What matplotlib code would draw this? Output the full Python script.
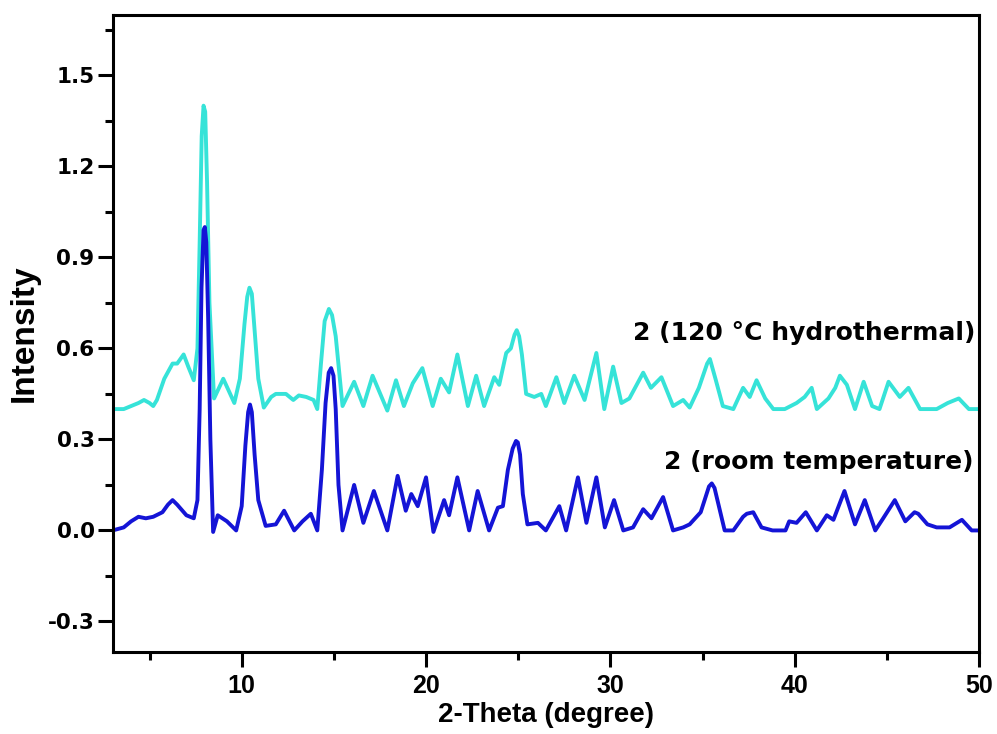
import matplotlib
matplotlib.use("Agg")
import matplotlib.pyplot as plt
from matplotlib.ticker import MultipleLocator, FixedLocator

# Powder XRD patterns of compound 2 (2-theta in degrees, normalised intensity)
rt_theta = [3.0, 3.6, 4.0, 4.4, 4.8, 5.2, 5.7, 6.0, 6.25, 6.5, 7.0, 7.4, 7.6, 7.72,
            7.82, 7.93, 8.0, 8.08, 8.18, 8.3, 8.45, 8.7, 9.2, 9.7, 10.0, 10.2, 10.35,
            10.45, 10.55, 10.7, 10.9, 11.3, 11.85, 12.3, 12.85, 13.3, 13.75, 14.1,
            14.35, 14.55, 14.72, 14.85, 14.98, 15.1, 15.25, 15.47, 16.1, 16.6, 17.17,
            17.9, 18.46, 18.9, 19.2, 19.55, 20.0, 20.4, 20.98, 21.25, 21.7, 22.34,
            22.8, 23.42, 23.9, 24.17, 24.44, 24.7, 24.88, 24.98, 25.1, 25.25, 25.5,
            26.07, 26.5, 27.23, 27.6, 28.24, 28.7, 29.24, 29.7, 30.2, 30.7, 31.23,
            31.78, 32.23, 32.86, 33.4, 33.95, 34.3, 34.9, 35.35, 35.5, 35.65, 36.2,
            36.67, 37.2, 37.4, 37.75, 38.2, 38.8, 39.5, 39.7, 40.1, 40.6, 41.2,
            41.74, 42.1, 42.7, 43.27, 43.8, 44.37, 44.8, 45.43, 46.0, 46.5, 46.7,
            47.2, 47.7, 48.4, 49.07, 49.6, 50.0]
rt_intensity = [0.0, 0.01, 0.03, 0.045, 0.04, 0.045, 0.06, 0.085, 0.10, 0.085, 0.05,
                0.04, 0.10, 0.4, 0.8, 0.99, 1.0, 0.95, 0.7, 0.3, -0.005, 0.05, 0.03,
                0.0, 0.08, 0.28, 0.39, 0.415, 0.39, 0.25, 0.1, 0.015, 0.02, 0.065,
                0.0, 0.03, 0.055, 0.0, 0.2, 0.42, 0.52, 0.535, 0.51, 0.4, 0.15, 0.0,
                0.15, 0.025, 0.13, 0.0, 0.18, 0.065, 0.12, 0.08, 0.175, -0.005, 0.1,
                0.05, 0.175, 0.0, 0.13, 0.0, 0.075, 0.08, 0.2, 0.27, 0.295, 0.29,
                0.25, 0.12, 0.02, 0.025, 0.0, 0.08, 0.0, 0.175, 0.025, 0.175, 0.01,
                0.1, 0.0, 0.01, 0.07, 0.04, 0.11, 0.0, 0.01, 0.02, 0.06, 0.145,
                0.155, 0.14, 0.0, 0.0, 0.045, 0.055, 0.06, 0.01, 0.0, 0.0, 0.03,
                0.025, 0.06, 0.0, 0.05, 0.035, 0.13, 0.02, 0.1, 0.0, 0.04, 0.1, 0.03,
                0.06, 0.055, 0.02, 0.01, 0.01, 0.035, 0.0, 0.0]

ht_theta = [3.0, 3.6, 4.0, 4.4, 4.7, 5.0, 5.2, 5.4, 5.8, 6.25, 6.5, 6.85, 7.1, 7.4,
            7.6, 7.72, 7.83, 7.93, 8.02, 8.12, 8.25, 8.5, 9.0, 9.6, 9.9, 10.15,
            10.3, 10.42, 10.55, 10.7, 10.9, 11.2, 11.6, 11.85, 12.4, 12.8, 13.1,
            13.5, 13.9, 14.1, 14.3, 14.5, 14.73, 14.9, 15.1, 15.47, 16.1, 16.6,
            17.1, 17.9, 18.37, 18.8, 19.28, 19.8, 20.36, 20.8, 21.25, 21.7, 22.27,
            22.72, 23.15, 23.7, 23.97, 24.35, 24.6, 24.8, 24.92, 25.05, 25.2, 25.43,
            25.87, 26.25, 26.5, 27.07, 27.5, 28.04, 28.6, 29.24, 29.67, 30.15, 30.6,
            31.03, 31.78, 32.2, 32.77, 33.4, 33.95, 34.3, 34.8, 35.25, 35.4, 35.7,
            36.1, 36.67, 37.2, 37.56, 37.93, 38.4, 38.84, 39.46, 40.1, 40.54, 40.92,
            41.2, 41.83, 42.2, 42.45, 42.83, 43.27, 43.74, 44.2, 44.6, 45.09, 45.7,
            46.17, 46.8, 47.4, 47.7, 48.3, 48.9, 49.45, 50.0]
ht_intensity = [0.40, 0.40, 0.41, 0.42, 0.43, 0.42, 0.41, 0.43, 0.50, 0.55, 0.55,
                0.58, 0.54, 0.495, 0.6, 0.95, 1.3, 1.40, 1.38, 1.15, 0.75, 0.435,
                0.50, 0.42, 0.5, 0.68, 0.77, 0.80, 0.78, 0.66, 0.5, 0.405, 0.44,
                0.45, 0.45, 0.43, 0.445, 0.44, 0.43, 0.40, 0.55, 0.69, 0.73, 0.71,
                0.64, 0.41, 0.49, 0.41, 0.51, 0.395, 0.495, 0.41, 0.485, 0.535,
                0.41, 0.5, 0.455, 0.58, 0.41, 0.51, 0.41, 0.505, 0.48, 0.585, 0.6,
                0.645, 0.66, 0.64, 0.58, 0.45, 0.44, 0.45, 0.41, 0.505, 0.42, 0.51,
                0.43, 0.585, 0.40, 0.54, 0.42, 0.435, 0.52, 0.47, 0.505, 0.41, 0.43,
                0.405, 0.47, 0.55, 0.565, 0.5, 0.41, 0.40, 0.47, 0.44, 0.495, 0.435,
                0.40, 0.40, 0.42, 0.44, 0.47, 0.40, 0.435, 0.47, 0.51, 0.48, 0.40,
                0.49, 0.41, 0.40, 0.49, 0.44, 0.47, 0.40, 0.40, 0.40, 0.42, 0.435,
                0.40, 0.40]

series_labels = ["2 (120 °C hydrothermal)", "2 (room temperature)"]
x_ticks = [10, 20, 30, 40, 50]
y_ticks = [-0.3, 0.0, 0.3, 0.6, 0.9, 1.2, 1.5]

fig = plt.figure(figsize=(9.97, 7.34), dpi=100)
ax = fig.add_axes([0.113, 0.112, 0.869, 0.868])

ax.plot(ht_theta, ht_intensity, color="#36E3D8", lw=2.8,
        solid_joinstyle="round", solid_capstyle="round")
ax.plot(rt_theta, rt_intensity, color="#1414D6", lw=2.8,
        solid_joinstyle="round", solid_capstyle="round")

ax.set_xlim(3, 50)
ax.set_ylim(-0.4, 1.7)

ax.xaxis.set_major_locator(FixedLocator(x_ticks))
ax.xaxis.set_minor_locator(MultipleLocator(5))
ax.yaxis.set_major_locator(FixedLocator(y_ticks))
ax.yaxis.set_minor_locator(MultipleLocator(0.15))
ax.set_yticklabels([f"{v:.1f}" for v in y_ticks])

for s in ax.spines.values():
    s.set_linewidth(2.2)
ax.tick_params(which="major", direction="out", length=11, width=2.2)
ax.tick_params(which="minor", direction="out", length=6, width=2.2)
ax.tick_params(axis="y", pad=2)
ax.tick_params(axis="x", pad=5)

for lab in ax.get_xticklabels():
    lab.set_fontfamily(["Liberation Sans", "DejaVu Sans"])
    lab.set_fontweight("bold")
    lab.set_fontsize(18)
for lab in ax.get_yticklabels():
    lab.set_fontfamily("DejaVu Sans")
    lab.set_fontweight("bold")
    lab.set_fontsize(15.5)

ax.set_xlabel("2-Theta (degree)", fontfamily=["Liberation Sans", "DejaVu Sans"],
              fontweight="bold", fontsize=20, labelpad=3)
ax.set_ylabel("Intensity", fontfamily=["Liberation Sans", "DejaVu Sans"],
              fontweight="bold", fontsize=24, labelpad=6)

ax.text(49.8, 0.65, series_labels[0], ha="right", va="center",
        fontfamily="DejaVu Sans", fontweight="bold", fontsize=18)
ax.text(49.7, 0.225, series_labels[1], ha="right", va="center",
        fontfamily="DejaVu Sans", fontweight="bold", fontsize=18)

fig.savefig("out.png", dpi=100)
